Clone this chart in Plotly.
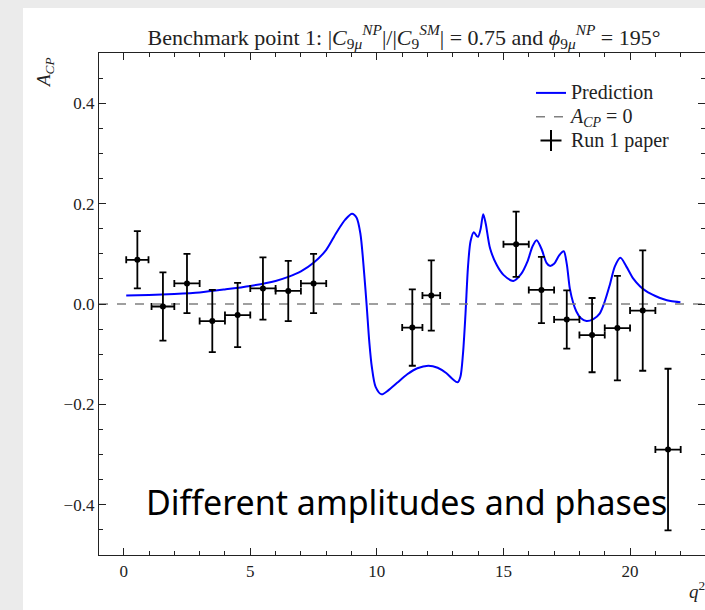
import plotly.graph_objects as go

# ---- Data ----
q_curve = [0.1, 1.0, 2.0, 3.0, 4.0, 5.0, 6.0, 6.5, 7.0, 7.5, 8.0, 8.4, 8.75, 9.02, 9.2,
           9.35, 9.5, 9.6, 9.7, 9.8, 9.95, 10.19, 10.45, 10.8, 11.2, 11.6, 12.03, 12.4,
           12.75, 13.0, 13.19, 13.3, 13.4, 13.5, 13.6, 13.7, 13.83, 13.95, 14.0, 14.1,
           14.2, 14.3, 14.47, 14.73, 15.0, 15.39, 15.7, 15.95, 16.15, 16.31, 16.5, 16.7,
           16.83, 17.0, 17.2, 17.38, 17.5, 17.62, 17.75, 17.88, 18.05, 18.28, 18.55,
           18.8, 19.0, 19.2, 19.4, 19.62, 19.85, 20.12, 20.4, 20.65, 21.0, 21.3, 21.6, 21.99]
acp_curve = [0.017, 0.018, 0.020, 0.023, 0.029, 0.036, 0.046, 0.054, 0.065, 0.082, 0.108,
             0.142, 0.168, 0.180, 0.172, 0.140, 0.060, -0.005, -0.075, -0.125, -0.165,
             -0.180, -0.172, -0.157, -0.140, -0.128, -0.123, -0.127, -0.138, -0.150,
             -0.156, -0.145, -0.100, -0.020, 0.075, 0.125, 0.143, 0.135, 0.134, 0.150,
             0.179, 0.160, 0.111, 0.078, 0.058, 0.046, 0.060, 0.085, 0.115, 0.127, 0.110,
             0.082, 0.076, 0.080, 0.097, 0.105, 0.080, 0.031, 0.003, -0.015, -0.028,
             -0.034, -0.030, -0.019, 0.005, 0.038, 0.075, 0.092, 0.075, 0.051, 0.035,
             0.025, 0.016, 0.010, 0.006, 0.0035]

q_data = [0.54, 1.55, 2.5, 3.5, 4.5, 5.5, 6.5, 7.5, 11.4, 12.15, 15.5, 16.5, 17.5, 18.5,
          19.5, 20.5, 21.5]
q_halfwidth = [0.44, 0.45, 0.5, 0.5, 0.5, 0.5, 0.5, 0.5, 0.4, 0.35, 0.5, 0.5, 0.5, 0.5,
               0.5, 0.5, 0.5]
acp_data = [0.088, -0.005, 0.041, -0.034, -0.022, 0.031, 0.026, 0.041, -0.047, 0.017,
            0.119, 0.028, -0.031, -0.062, -0.048, -0.013, -0.290]
acp_err = [0.057, 0.068, 0.059, 0.062, 0.064, 0.062, 0.060, 0.059, 0.076, 0.070, 0.065,
           0.066, 0.058, 0.074, 0.104, 0.120, 0.161]

x_range = [-0.975, 22.96]
y_range = [-0.5, 0.5]
y_ticks = [-0.4, -0.2, 0.0, 0.2, 0.4]
x_ticks = [0, 5, 10, 15, 20]

SERIF = "Liberation Serif"


def big(s):
    return '<span style="font-size:20px">' + s + '</span>'


fig = go.Figure()
fig.add_trace(go.Scatter(
    x=q_curve, y=acp_curve, mode="lines", name=big("Prediction"),
    line=dict(color="#0000ff", width=2, shape="spline", smoothing=0.8)))
fig.add_trace(go.Scatter(
    x=x_range, y=[0, 0], mode="lines",
    name=big("<i>A</i><sub><i>CP</i></sub> = 0"),
    line=dict(color="#808080", width=1.6, dash="dash")))
fig.add_trace(go.Scatter(
    x=q_data, y=acp_data, mode="markers", name="Run 1 paper", showlegend=False,
    marker=dict(color="black", size=6),
    error_y=dict(type="data", array=acp_err, color="black", thickness=1.8, width=3.5),
    error_x=dict(type="data", array=q_halfwidth, color="black", thickness=1.8, width=3.5)))
# legend entry for the data (errorbar-cross symbol)
fig.add_trace(go.Scatter(
    x=[None], y=[None], mode="markers", name=big("Run 1 paper"),
    marker=dict(color="black", size=15, symbol="cross-thin",
                line=dict(color="black", width=2))))

L, T, B = 99, 53, 55
W, H = 705, 610
plot_w = W - L
plot_h = H - T - B

axis_common = dict(
    showline=True, linecolor="#222", linewidth=1.4, mirror="allticks",
    ticks="inside", ticklen=7, tickwidth=1, tickcolor="#222",
    showgrid=False, zeroline=False,
    tickfont=dict(family=SERIF, size=17, color="#222"),
)

fig.update_layout(
    width=W, height=H,
    margin=dict(l=L, r=0, t=T, b=B),
    paper_bgcolor="#ebebeb",
    plot_bgcolor="white",
    showlegend=True,
    font=dict(family=SERIF, size=16, color="#222"),
    title=dict(
        text=("Benchmark point 1: |<i>C</i><sub>9<i>μ</i></sub><sup><i>NP</i></sup>|/"
              "|<i>C</i><sub>9</sub><sup><i>SM</i></sup>| = 0.75 and "
              "<i>ϕ</i><sub>9<i>μ</i></sub><sup><i>NP</i></sup> = 195°"),
        x=(404 - L) / plot_w, xref="paper", xanchor="center",
        y=1 - 37 / H, yref="container", yanchor="middle",
        font=dict(family=SERIF, size=22, color="#222")),
    legend=dict(
        x=(531 - L) / plot_w, xanchor="left",
        y=(H - B - 76) / plot_h, yanchor="top",
        bgcolor="rgba(0,0,0,0)", borderwidth=0,
        font=dict(family=SERIF, size=16, color="#222"),
        tracegroupgap=0),
    xaxis=dict(range=x_range, tickvals=x_ticks, ticktext=[str(v) for v in x_ticks],
               minor=dict(dtick=1, ticks="inside", ticklen=4, tickcolor="#222", tickwidth=1),
               **axis_common),
    yaxis=dict(range=y_range, tickvals=y_ticks, tickformat=".1f",
               minor=dict(dtick=0.05, ticks="inside", ticklen=4, tickcolor="#222", tickwidth=1),
               **axis_common),
)

# white page area (reference has a light grey strip at left and top)
fig.add_shape(type="rect", xref="paper", yref="paper",
              x0=(23 - L) / plot_w, x1=1.05,
              y0=-(B + 5) / plot_h, y1=(H - B - 8) / plot_h,
              fillcolor="white", line=dict(width=0), layer="below")

# y-axis label (top-aligned, rotated)
fig.add_annotation(text="<i>A</i><sub><i>CP</i></sub>", xref="paper", yref="paper",
                   x=(45 - L) / plot_w, y=(H - B - 73) / plot_h, textangle=-90,
                   showarrow=False, xanchor="center", yanchor="middle",
                   font=dict(family=SERIF, size=19, color="#222"))
# x-axis label (right-aligned, partly cut off)
fig.add_annotation(text="<i>q</i><sup>2</sup>", xref="paper", yref="paper",
                   x=(687 - L) / plot_w, y=-(590 - (H - B)) / plot_h,
                   showarrow=False, xanchor="left", yanchor="middle",
                   font=dict(family=SERIF, size=19, color="#222"))
# overlay text
fig.add_annotation(text="Different amplitudes and phases", xref="paper", yref="paper",
                   x=(406 - L) / plot_w, y=(H - B - 502) / plot_h,
                   showarrow=False, xanchor="center", yanchor="middle",
                   font=dict(family="Noto Sans", size=34, color="black"))

fig.write_html("out.html")
